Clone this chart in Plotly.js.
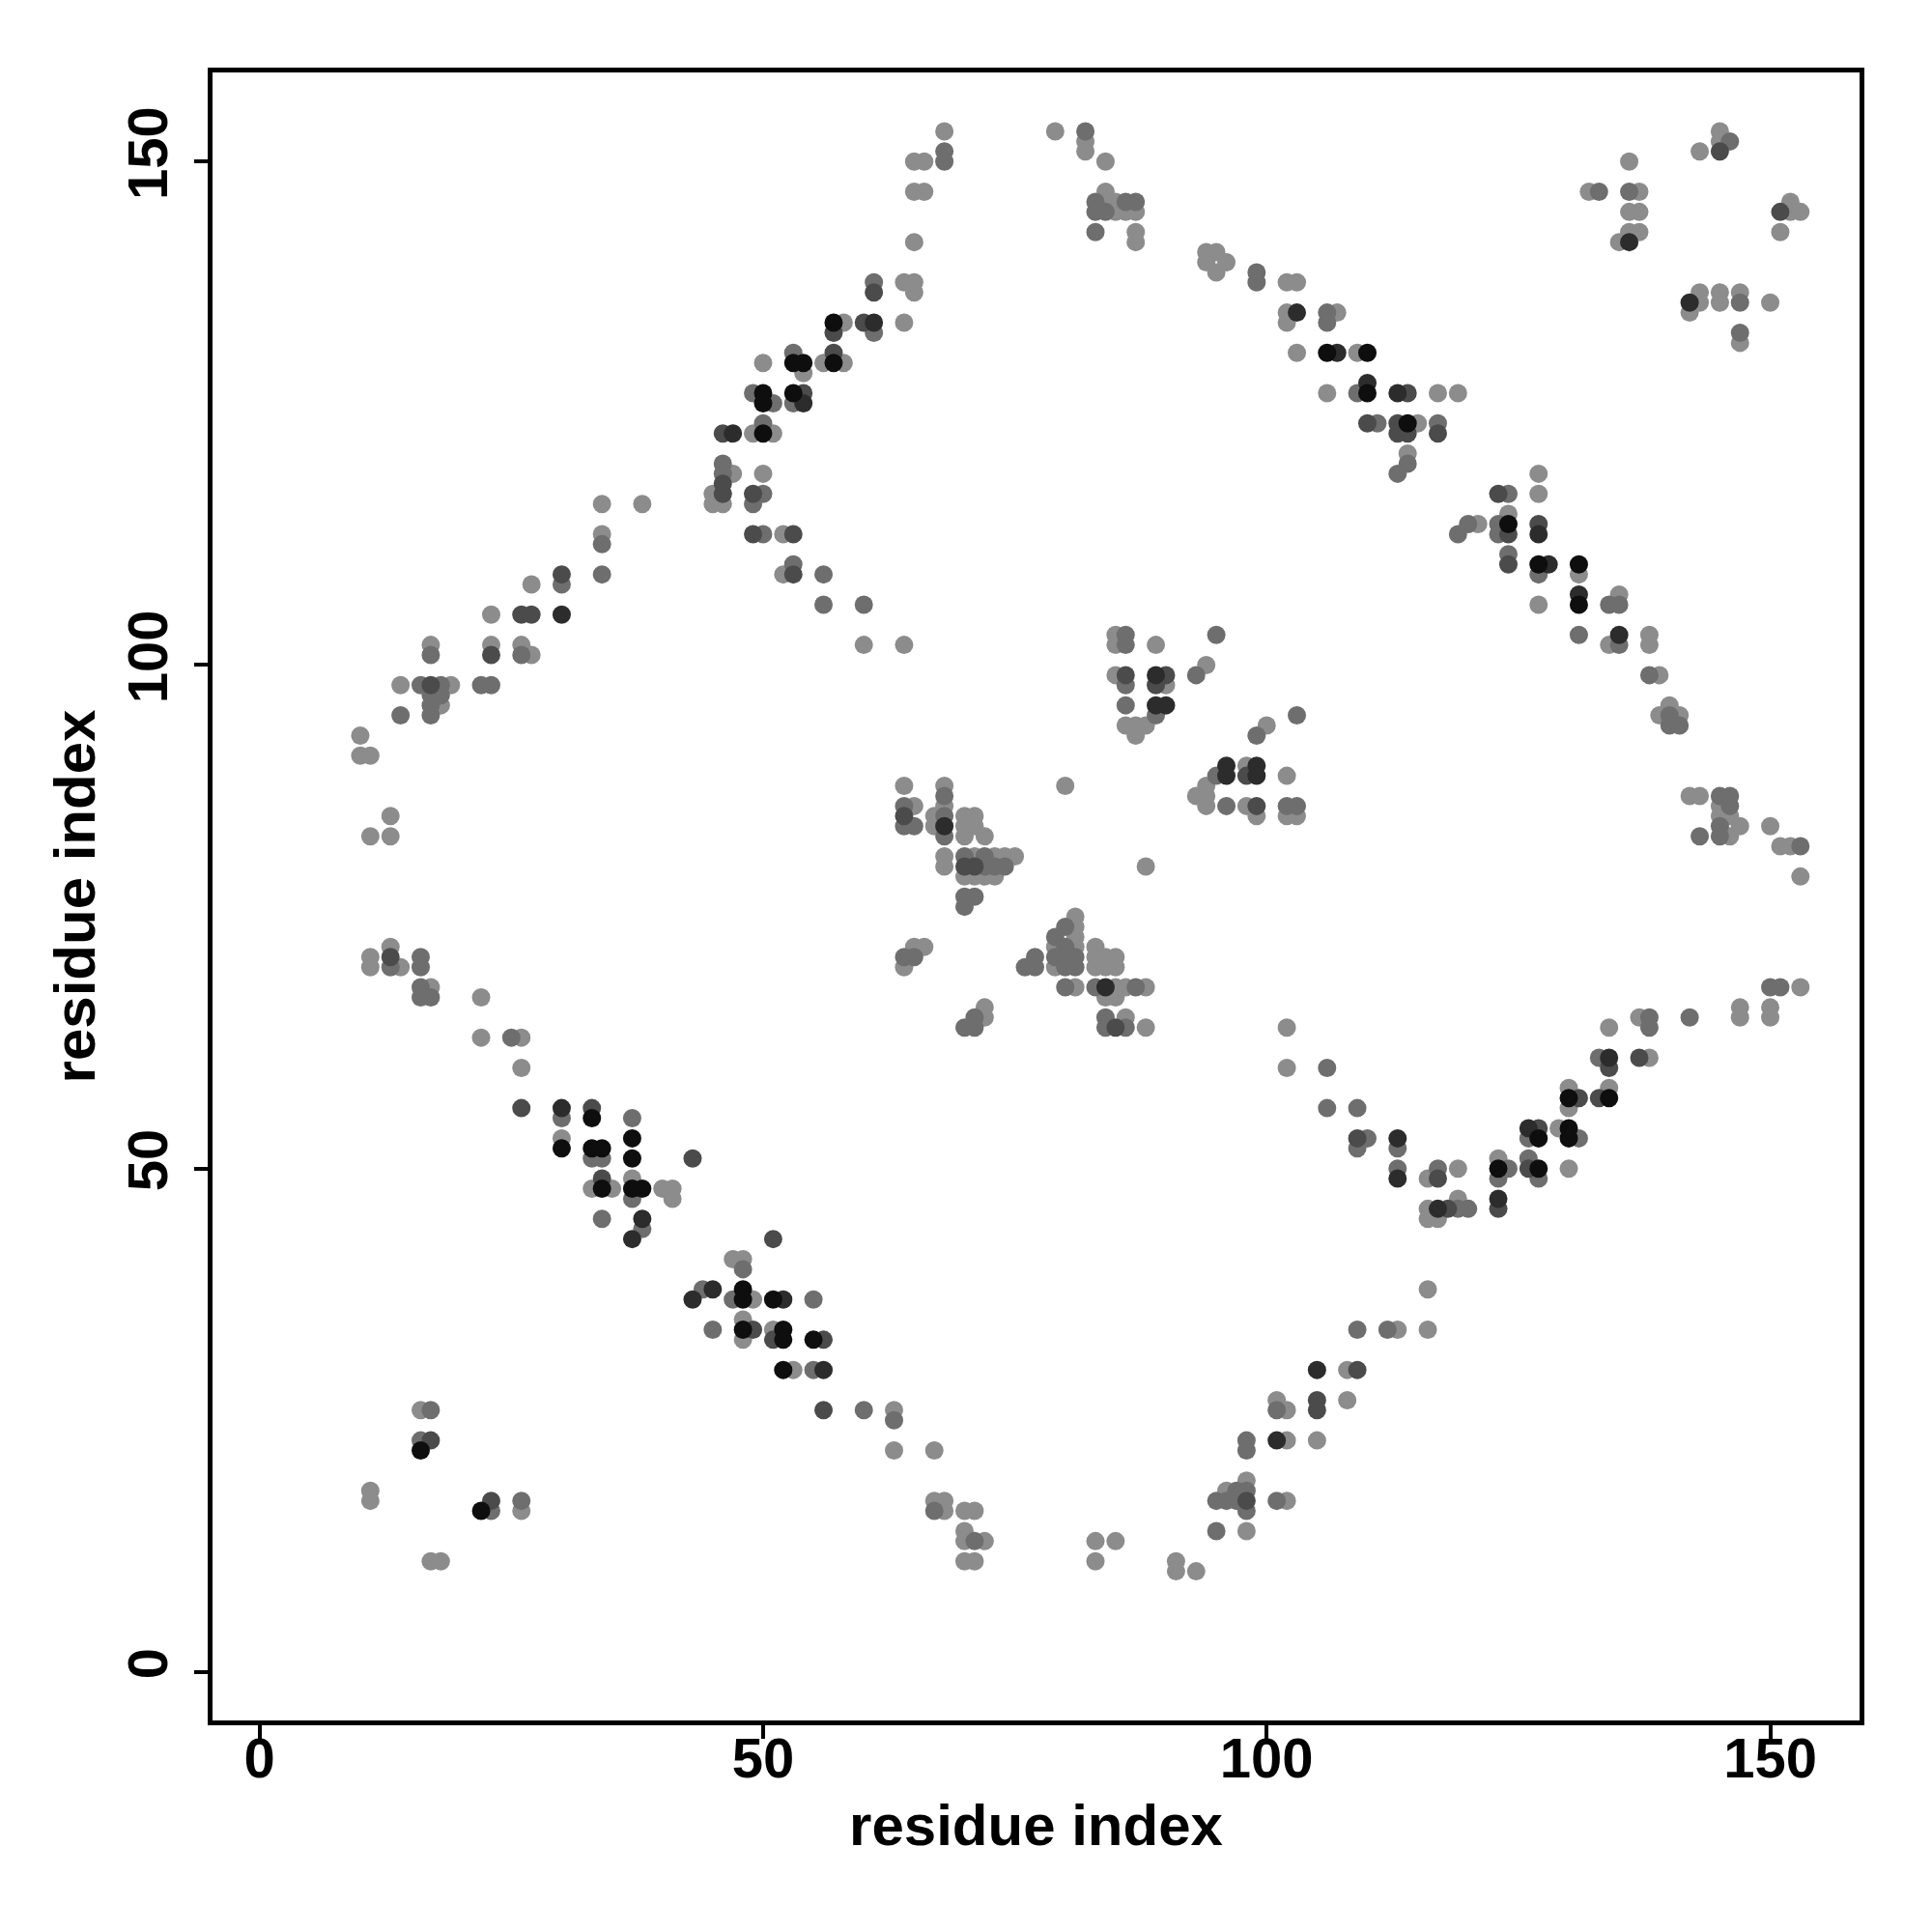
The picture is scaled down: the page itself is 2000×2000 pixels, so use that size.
<!DOCTYPE html>
<html><head><meta charset="utf-8">
<script src="https://cdn.plot.ly/plotly-3.0.1.min.js"></script>
<style>body{margin:0;background:#fff}</style>
</head><body>
<div id="chart" style="width:2000px;height:2000px"></div>
<script>
// Contact pairs (residue i, residue j), grouped by grey level of the dot
const lightPts = [
[34,116],[34,113],[27,108],[23,105],
[68,153],[65,150],[66,150],[65,147],[66,147],[65,142],[64,138],[65,138],[65,137],[58,134],[64,134],[54,129],[50,130],[56,130],[58,130],[49,123],[51,123],[47,119],[45,117],[45,116],[46,116],[50,119],[38,116],[52,113],[52,109],
[79,153],[82,152],[82,151],[84,150],[84,147],[84,146],[85,146],[85,145],[86,145],[87,145],[87,143],[87,142],[94,141],[95,141],[94,140],[96,140],[95,139],[102,138],[103,138],[102,135],[102,134],[107,135],[103,131],[109,131],[106,127],[117,127],[119,127],[115,124],[114,121],
[145,153],[143,151],[145,152],[136,150],[132,147],[137,147],[136,145],[137,145],[136,143],[137,143],[135,142],[152,146],[152,145],[153,145],[151,143],[142,135],[143,137],[143,136],[145,137],[145,136],[147,137],[150,136],[147,132],[127,119],[127,117],[124,115],[121,114],[131,109],[127,106],[135,107],
[134,102],[138,103],[138,102],[139,99],[140,96],[139,95],[141,95],[142,87],[143,87],[145,86],[145,85],[146,85],[147,84],[146,83],[150,84],[151,82],[152,82],[153,79],[153,68],[147,66],[147,65],[150,66],[150,65],[137,65],[134,64],[138,61],[130,58],[130,56],[134,58],[129,54],[119,50],[123,51],[130,50],
[119,47],
[116,49],[116,46],[116,45],[117,45],[116,38],[113,34],[116,34],[108,30],[101,27],[102,26],[108,27],[102,23],[105,23],[98,19],[96,18],[102,17],[98,14],[83,13],[85,13],[83,11],[91,11],[91,10],[93,10],
[37,49],[40,48],[41,48],[41,47],[47,41],[48,41],[49,37],[48,35],[48,33],[51,34],[53,30],[63,26],[63,22],[67,22],[67,17],[68,17],[68,16],[70,16],[71,16],[70,14],[72,13],[70,13],[70,11],[71,11],
[33,48],[35,48],[16,26],[11,18],[11,17],[26,16],[17,11],[18,11],
[17,102],[23,102],[26,102],[27,101],[14,98],[19,98],[18,96],[10,93],[10,91],[11,91],[13,85],[11,83],[13,83],[11,71],[11,70],[13,72],[14,70],[17,68],[22,67],[22,63],[26,63],[26,60],[30,53],
[60,102],[64,102],[64,88],[65,86],[67,85],[67,84],[68,88],[68,86],[68,81],[68,80],[70,85],[71,85],[70,84],[71,84],[70,83],[72,83],[71,81],[73,81],[74,81],[75,81],[70,79],[71,79],[72,79],[73,79],[64,70],[65,72],[66,72],[72,66],[72,65],
[85,103],[85,102],[89,102],[85,99],[90,98],[86,94],[87,94],[88,94],[87,93],[94,100],[100,94],[80,88],[98,90],[102,89],[94,88],[93,87],[94,87],[94,86],[98,86],[99,85],[102,85],[103,85],[88,80],[81,75],[81,74],[81,73],[79,72],[81,72],[79,70],[83,72],[84,71],[85,71],[83,71],[83,70],[84,70],[85,70],[81,68],[85,68],[86,68],[88,68],[84,67],[85,67],[86,65],[88,64],[102,64],[102,60]
];
const mediumPts = [
[34,112],[34,109],[30,108],
[68,151],[68,150],[61,138],[61,133],[53,131],[49,127],[51,126],[53,126],[50,124],[46,120],[46,119],[50,117],[49,116],[50,113],[53,110],[56,109],[56,106],[60,106],
[82,153],[83,146],[83,145],[84,145],[86,146],[87,146],[83,143],[99,139],[99,138],[106,135],[106,134],[109,127],[111,124],[117,124],[114,120],[113,119],[119,113],
[146,152],[133,147],[136,147],[147,136],[147,133],[124,117],[123,114],[123,113],[120,114],[124,111],[127,109],[134,106],[135,106],
[131,103],[135,102],[138,99],[140,95],[140,94],[141,94],[145,87],[146,87],[146,86],[145,84],[145,83],[143,83],[153,82],[150,68],[151,68],[142,65],[138,65],[138,64],[133,61],[126,53],[131,53],[124,50],[126,51],
[123,49],[127,49],[120,46],[119,46],
[113,50],[117,50],[109,34],[112,34],[101,26],[98,23],[98,22],[97,18],[98,18],[95,17],[96,17],[97,17],[98,16],[101,17],[95,14],
[37,47],[38,44],[48,40],[44,38],[47,37],[55,37],[45,34],[55,30],[60,26],[63,25],[67,16],[71,13],
[34,45],[17,26],[16,23],[23,16],[26,17],
[17,101],[26,101],[16,98],[18,98],[17,97],[18,97],[17,96],[14,95],[17,95],[22,98],[23,98],[13,70],[16,71],[16,70],[16,68],[16,67],[17,67],[25,63],[30,55],[33,51],[34,51],
[64,86],[64,84],[65,84],[68,87],[68,85],[68,83],[70,81],[72,81],[72,80],[73,80],[74,80],[70,77],[71,77],[70,76],[64,71],[65,71],[76,70],[77,71],[77,70],[70,64],[71,65],[71,64],[37,55],
[86,103],[86,102],[95,103],[86,98],[86,96],[89,95],[93,99],[103,95],[99,93],[95,89],[96,86],[102,86],[103,86],[80,74],[79,73],[80,72],[79,71],[80,71],[81,71],[80,70],[81,70],[80,68],[83,68],[87,68],[84,65],[84,64],[86,64],[106,60],[106,56],[109,56],[110,53],[109,52],[113,52]
];
const darkPts = [
[30,109],[26,105],[27,105],
[61,137],[57,133],[60,134],[57,131],[54,127],[46,123],[46,118],[46,117],[49,117],[49,113],[53,113],[53,109],
[114,127],[110,124],[113,124],[113,123],[114,123],[117,123],
[145,151],[151,145],[123,117],[124,113],[127,114],[124,110],
[134,60],[137,61],[131,57],[133,57],[127,54],[126,50],
[123,46],
[117,49],[118,46],[109,30],[105,27],[105,26],[98,17],
[51,43],[49,34],[51,33],[56,33],[56,26],
[34,49],[17,23],[23,17],
[23,101],[17,98],[13,71],[26,56],[33,56],
[64,85],[70,80],[71,80],[43,51],
[86,99],[90,99],[89,98],[98,89],[99,86],[85,64],[109,53]
];
const veryDarkPts = [
[30,105],
[61,134],[54,126],[47,123],
[103,135],[107,131],[110,128],[113,127],
[136,142],[142,136],[127,113],[128,110],[131,107],
[135,103],[134,61],[126,54],
[123,47],
[113,49],[117,46],[105,30],[101,23],
[38,45],[37,43],[45,38],[43,37],[52,37],[56,30],
[30,56],
[68,84],
[89,99],[89,96],[90,96],[96,90],[96,89],[99,90],[99,89],[84,68],[113,53]
];
const blackPts = [
[57,134],[53,130],[54,130],[57,130],[50,127],[50,126],[53,127],[50,123],
[106,131],[110,131],[110,127],[114,124],
[124,114],[127,110],[131,110],[131,106],
[130,57],[134,57],[127,53],[130,54],[130,53],[123,50],[127,50],
[37,48],[38,48],[48,38],[48,37],[51,37],[48,34],[52,34],[52,33],[55,33],[52,30],
[34,48],[16,22],[22,16],
[33,55],[30,52],[33,52],[34,52],
[37,53],[37,51]
];
const tickValues = [0, 50, 100, 150];
const axisTitle = 'residue index';

const groups = [
  {pts: lightPts, color: '#8c8c8c'},
  {pts: mediumPts, color: '#6e6e6e'},
  {pts: darkPts, color: '#4b4b4b'},
  {pts: veryDarkPts, color: '#2c2c2c'},
  {pts: blackPts, color: '#0e0e0e'}
];
const traces = groups.map(g => ({
  type: 'scatter', mode: 'markers',
  x: g.pts.map(p => p[0]), y: g.pts.map(p => p[1]),
  marker: {size: 19, color: g.color, line: {width: 0}},
  showlegend: false, hoverinfo: 'x+y'
}));

const fontFam = 'Liberation Sans, Arial, sans-serif';
const axisCommon = {
  tickvals: tickValues, ticks: 'outside', ticklen: 14, tickwidth: 4, tickcolor: '#000',
  showgrid: false, zeroline: false, showline: true, mirror: true,
  linewidth: 5, linecolor: '#000',
  tickfont: {size: 58, family: fontFam, weight: 'bold', color: '#000'}
};
const layout = {
  width: 2000, height: 2000,
  margin: {l: 220, r: 75, t: 75, b: 219},
  paper_bgcolor: '#fff', plot_bgcolor: '#fff',
  showlegend: false,
  font: {family: fontFam, color: '#000'},
  xaxis: Object.assign({}, axisCommon, {
    range: [-4.67, 158.87], ticklabelstandoff: -30,
    title: {text: axisTitle, font: {size: 60, weight: 'bold', family: fontFam}, standoff: 19}
  }),
  yaxis: Object.assign({}, axisCommon, {
    range: [-4.81, 158.85], tickangle: -90, ticklabelstandoff: 5,
    title: {text: axisTitle, font: {size: 60, weight: 'bold', family: fontFam}, standoff: 3}
  })
};
Plotly.newPlot('chart', traces, layout, {displayModeBar: false, staticPlot: true});
</script>
</body></html>
